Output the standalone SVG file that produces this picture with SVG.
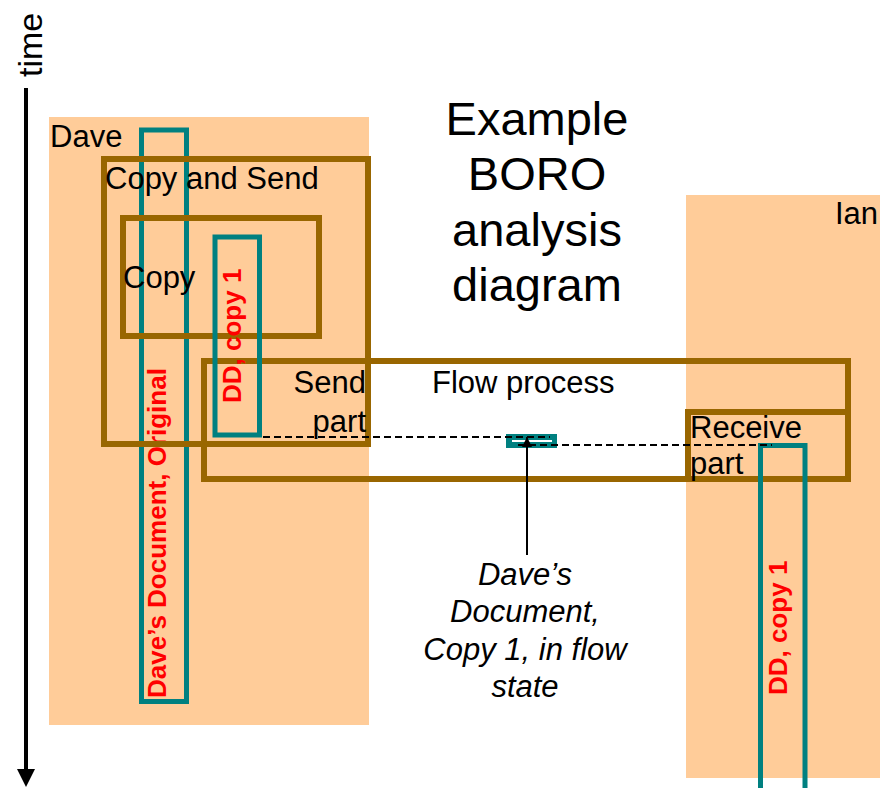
<svg xmlns="http://www.w3.org/2000/svg" width="880" height="788" viewBox="0 0 880 788">
<style>
text{font-family:"Liberation Sans",Arial,sans-serif;fill:#000}
.lbl{font-size:31px}
.ttl{font-size:47px;text-anchor:middle}
.it{font-size:31px;font-style:italic;text-anchor:middle}
.red{font-size:26px;font-weight:bold;fill:#FF0000}
.region{fill:#FFCC99}
.box{fill:none;stroke:#996600;stroke-width:6}
.doc{fill:none;stroke:#008080;stroke-width:5}
.dash{fill:none;stroke:#000;stroke-width:1.8;stroke-dasharray:7 4}
</style>
<defs>
<marker id="ah" viewBox="0 0 10 10" refX="10" refY="5" markerWidth="10" markerHeight="10" markerUnits="userSpaceOnUse" orient="auto">
<path d="M0,0 L10,5 L0,10 z" fill="#000"/>
</marker>
</defs>
<rect width="880" height="788" fill="#fff"/>

<g id="time-axis">
<line x1="26" y1="88" x2="26" y2="772" stroke="#000" stroke-width="4"/>
<polygon points="17,769 35,769 26,787" fill="#000"/>
<text x="0" y="0" font-size="34" transform="translate(42,77) rotate(-90)">time</text>
</g>

<g id="dave">
<rect class="region" x="49" y="117" width="320" height="608"/>
<text class="lbl" x="50" y="147">Dave</text>
</g>

<g id="ian">
<rect class="region" x="686" y="195" width="194" height="583"/>
<text class="lbl" x="835" y="224">Ian</text>
</g>

<g id="title">
<text class="ttl" x="537" y="135">Example</text>
<text class="ttl" x="537" y="190">BORO</text>
<text class="ttl" x="537" y="246">analysis</text>
<text class="ttl" x="537" y="301">diagram</text>
</g>

<g id="daves-document-original">
<rect class="doc" x="141.5" y="130" width="45" height="571.5"/>
<text class="red" transform="translate(166,698) rotate(-90)">Dave’s Document, Original</text>
</g>

<g id="copy-and-send">
<rect class="box" x="104" y="159" width="264" height="285"/>
<text class="lbl" x="105" y="189">Copy and Send</text>
</g>

<g id="copy">
<rect class="box" x="123" y="218" width="196" height="118"/>
<text class="lbl" x="123" y="288">Copy</text>
</g>

<g id="flow-process">
<rect class="box" x="204" y="361" width="644" height="118"/>
<text class="lbl" x="432" y="393">Flow process</text>
</g>

<g id="send-part">
<text class="lbl" x="366" y="393" text-anchor="end">Send</text>
<text class="lbl" x="366" y="432" text-anchor="end">part</text>
</g>

<g id="receive-part">
<rect class="box" x="688" y="412" width="160" height="67"/>
<text class="lbl" x="690" y="438">Receive</text>
<text class="lbl" x="690" y="474">part</text>
</g>

<g id="dd-copy1-dave">
<rect class="doc" x="215" y="237" width="44.5" height="198"/>
<text class="red" transform="translate(241,403) rotate(-90)">DD, copy 1</text>
</g>

<g id="dd-copy1-ian">
<rect class="doc" x="760.5" y="445.5" width="44.5" height="360"/>
<text class="red" transform="translate(787,695) rotate(-90)">DD, copy 1</text>
</g>

<g id="flow-state">
<rect x="506" y="434" width="51" height="14" fill="#008080"/>
<line x1="512" y1="441" x2="552" y2="441" stroke="#fff" stroke-width="2"/>
</g>

<g id="connectors">
<line class="dash" x1="263" y1="437" x2="550" y2="437"/>
<line class="dash" x1="518" y1="445" x2="772" y2="445"/>
<line x1="527" y1="555" x2="527" y2="437" stroke="#000" stroke-width="2" marker-end="url(#ah)"/>
</g>

<g id="flow-state-label">
<text class="it" x="525" y="585">Dave’s</text>
<text class="it" x="525" y="622">Document,</text>
<text class="it" x="525" y="660">Copy 1, in flow</text>
<text class="it" x="525" y="697">state</text>
</g>
</svg>
